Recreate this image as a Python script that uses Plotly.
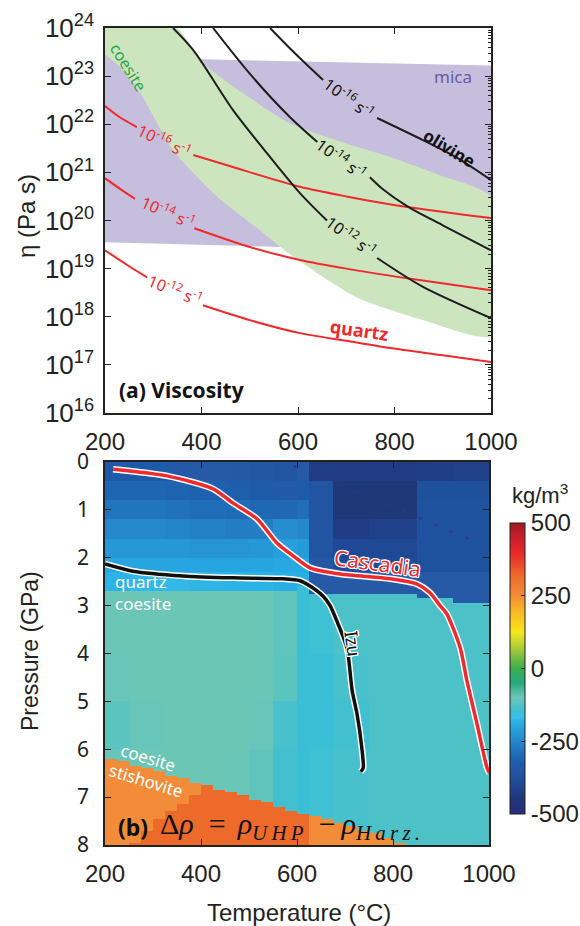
import bisect
import plotly.graph_objects as go

W, H = 580, 926

# ---------------- Panel (a): viscosity data (log10 of eta, Pa s) ----------------
T_TICKS = [200, 400, 600, 800, 1000]
LOG_ETA_TICKS = [16, 17, 18, 19, 20, 21, 22, 23, 24]

# quartz flow law at three strain rates (None = gap for the inline label)
qz16_T = [200, 230, 266, None, 383, 465, 604, 700, 826, 1000]
qz16_log = [22.38, 22.15, 21.94, None, 21.36, 21.11, 20.70, 20.50, 20.28, 20.05]
qz14_T = [200, 235, 262, None, 385, 500, 604, 700, 826, 1000]
qz14_log = [20.88, 20.63, 20.45, None, 19.84, 19.45, 19.18, 19.00, 18.80, 18.55]
qz12_T = [200, 250, 287, None, 403, 500, 604, 700, 791, 900, 1000]
qz12_log = [19.38, 19.05, 18.82, None, 18.24, 17.93, 17.66, 17.50, 17.35, 17.20, 17.06]

# olivine flow law at three strain rates
ol16_T = [542, 583, 620, 652, None, 764, 859, 930, 1000]
ol16_log = [24.0, 23.58, 23.22, 22.92, None, 22.13, 21.67, 21.30, 20.84]
ol14_T = [424, 500, 583, 640, None, 749, 776, 826, 900, 1000]
ol14_log = [24.0, 23.05, 22.15, 21.63, None, 20.90, 20.65, 20.30, 19.90, 19.38]
ol12_T = [341, 383, 465, 530, 604, 660, None, 764, 859, 1000]
ol12_log = [24.0, 23.54, 22.30, 21.47, 20.57, 20.00, None, 19.22, 18.62, 17.97]

# coesite band (upper edge then lower edge)
coes_T = [200, 349, 397, 450, 500, 583, 700, 791, 900, 1000,
          1000, 859, 722, 583, 521, 432, 341, 273, 230, 200]
coes_log = [24.0, 24.0, 23.33, 22.90, 22.55, 22.02, 21.60, 21.32, 20.92, 20.49,
            17.60, 17.93, 18.40, 19.30, 19.80, 20.50, 21.46, 22.65, 23.20, 23.45]
# mica band
mica_T = [200, 400, 1000, 1000, 563, 200]
mica_log = [23.47, 23.35, 23.22, 19.20, 19.45, 19.55]

# ---------------- Panel (b): density difference data ----------------
P_TICKS = [0, 1, 2, 3, 4, 5, 6, 7, 8]
CB_TICKS = [-500, -250, 0, 250, 500]
CB_TEXT = ["-500", "-250", "0", "250", "500"]

COL_EDGES = [200, 250, 325, 375, 450, 500, 550, 600, 625, 675, 750, 850, 925, 1000]
UPPER_BAND_TOPS = [0.0, 0.4, 0.8, 1.2, 1.6, 2.0, 2.3]
DRHO_UPPER = [
    [-330, -330, -335, -340, -345, -355, -360, -340, -430, -430, -430, -425, -420],
    [-305, -305, -310, -315, -320, -330, -335, -330, -360, -445, -445, -380, -380],
    [-280, -280, -285, -290, -295, -300, -300, -290, -360, -445, -445, -375, -375],
    [-250, -250, -255, -260, -265, -265, -240, -250, -360, -430, -420, -375, -375],
    [-220, -220, -220, -225, -225, -220, -210, -215, -360, -395, -395, -375, -375],
    [-200, -200, -200, -200, -200, -200, -195, -195, -350, -390, -390, -375, -375],
    [-180, -175, -175, -178, -180, -180, -185, -190, -340, -340, -340, -340, -340],
]
P_QUARTZ_COESITE = [2.7, 2.7, 2.7, 2.7, 2.7, 2.7, 2.7, 2.6, 2.75, 2.75, 2.75, 2.85, 2.95]
COES_BAND_TOPS = [0.0, 4.0, 5.0, 6.0]
DRHO_COESITE = [
    [-100, -100, -100, -100, -100, -102, -110, -150, -145, -130, -130, -130, -130],
    [-105, -100, -100, -100, -100, -102, -115, -150, -150, -135, -130, -130, -130],
    [-115, -105, -100, -100, -100, -105, -135, -150, -150, -140, -130, -130, -128],
    [-105, -100, -100, -100, -102, -110, -140, -150, -145, -135, -130, -128, -128],
]
# coesite/stishovite boundary per 25 C column (200-225 ... 975-1000)
P_STISHOVITE = [6.18, 6.26, 6.33, 6.40, 6.47, 6.54, 6.61, 6.68, 6.76, 6.83, 6.90, 6.97,
                7.05, 7.12, 7.20, 7.28, 7.35, 7.41, 7.47, 7.54, 7.62, 7.69, 7.77, 7.87,
                7.97, 9, 9, 9, 9, 9, 9, 9]
P_STISH_DARK = [9, 9, 7.95, 7.70, 7.45, 7.30, 7.14, 6.95, 0, 0, 0, 0,
                0, 0, 0, 0, 0, 9, 9, 9, 9, 9, 9, 9,
                9, 9, 9, 9, 9, 9, 9, 9]
DRHO_STISH_LIGHT = 250
DRHO_STISH_DARK = 320

cascadia_T = [217, 329, 425, 467, 517, 558, 592, 627, 690, 794, 850, 877, 898, 912, 940, 954, 975, 996, 1001]
cascadia_P = [0.15, 0.29, 0.56, 0.86, 1.19, 1.69, 1.96, 2.21, 2.34, 2.44, 2.55, 2.73, 3.00, 3.17, 3.88, 4.57, 5.47, 6.39, 6.50]
izu_T = [200, 258, 363, 467, 571, 606, 627, 654, 669, 683, 704, 715, 725, 735, 738, 733]
izu_P = [2.13, 2.28, 2.38, 2.42, 2.44, 2.48, 2.59, 2.80, 3.00, 3.32, 3.88, 4.78, 5.26, 5.97, 6.39, 6.47]
dots_T = [592, 669, 746, 821, 898, 975]
dots_P = [0.08, 0.40, 0.71, 1.02, 1.36, 1.67]

# ---------------- build heatmap grid ----------------
fine_T = [200 + 25 * i + 12.5 for i in range(32)]
fine_P = [0.025 + 0.05 * k for k in range(160)]
Z = []
for p in fine_P:
    row = []
    for j, t in enumerate(fine_T):
        c = bisect.bisect_right(COL_EDGES, t) - 1
        if p >= P_STISHOVITE[j]:
            row.append(DRHO_STISH_DARK if p >= P_STISH_DARK[j] else DRHO_STISH_LIGHT)
        elif p >= P_QUARTZ_COESITE[c]:
            b = max(0, bisect.bisect_right(COES_BAND_TOPS, p) - 1)
            row.append(DRHO_COESITE[b][c])
        else:
            b = bisect.bisect_right(UPPER_BAND_TOPS, p) - 1
            row.append(DRHO_UPPER[b][c])
    Z.append(row)

def sc(v):
    return (v + 500) / 1000.0

colorscale = [
    [sc(-500), "#2b2a7c"], [sc(-445), "#1e3878"], [sc(-430), "#1f3c84"],
    [sc(-410), "#21438e"], [sc(-375), "#1f529e"], [sc(-340), "#275aa6"],
    [sc(-330), "#1d5aa8"], [sc(-300), "#1f68b4"], [sc(-275), "#2277c0"],
    [sc(-250), "#2587cc"], [sc(-220), "#2598d8"], [sc(-200), "#27a5e0"],
    [sc(-180), "#2bb2e6"], [sc(-170), "#3dbde8"], [sc(-150), "#3abfd6"],
    [sc(-130), "#4cc1c8"], [sc(-100), "#6cc6b6"], [sc(-50), "#27a97f"],
    [sc(0), "#3aad4b"], [sc(60), "#9bc73e"], [sc(125), "#f5e71c"],
    [sc(200), "#fbb526"], [sc(250), "#f28c38"], [sc(320), "#ee6a2a"],
    [sc(400), "#e8262b"], [sc(450), "#c8202a"], [sc(500), "#9e1b20"],
]

def pw(vals):
    return [None if v is None else 10.0 ** v for v in vals]

RED = "#ee2a2e"
BLK = "#1e1e1e"
SANS = "Liberation Sans"
MYR = "Noto Sans"

fig = go.Figure()

# bands
fig.add_trace(go.Scatter(x=mica_T, y=pw(mica_log), fill="toself", fillcolor="#c6bedd",
                         line=dict(width=0), mode="lines", hoverinfo="skip",
                         xaxis="x", yaxis="y", showlegend=False))
fig.add_trace(go.Scatter(x=coes_T, y=pw(coes_log), fill="toself", fillcolor="#cde5bf",
                         line=dict(width=0, shape="spline", smoothing=0.6), mode="lines",
                         hoverinfo="skip", xaxis="x", yaxis="y", showlegend=False))
for tx, ly, col in [(qz16_T, qz16_log, RED), (qz14_T, qz14_log, RED), (qz12_T, qz12_log, RED),
                    (ol16_T, ol16_log, BLK), (ol14_T, ol14_log, BLK), (ol12_T, ol12_log, BLK)]:
    fig.add_trace(go.Scatter(x=tx, y=pw(ly), mode="lines",
                             line=dict(color=col, width=2, shape="spline", smoothing=0.8),
                             connectgaps=False, xaxis="x", yaxis="y", showlegend=False))
# invisible trace for right-hand minor tick axis
fig.add_trace(go.Scatter(x=[200], y=[1e20], mode="markers", marker=dict(opacity=0),
                         xaxis="x", yaxis="y3", showlegend=False, hoverinfo="skip"))

# heatmap
fig.add_trace(go.Heatmap(
    x=fine_T, y=fine_P, z=Z, zmin=-500, zmax=500, colorscale=colorscale,
    xaxis="x2", yaxis="y2", hoverinfo="skip",
    colorbar=dict(x=510 / W, xanchor="left", thickness=15, thicknessmode="pixels",
                  len=291 / H, lenmode="fraction", y=1 - 668.5 / H, yanchor="middle",
                  xpad=0, ypad=0, outlinewidth=1, outlinecolor="#222",
                  tickvals=CB_TICKS, ticktext=CB_TEXT, ticks="inside", ticklen=4,
                  tickcolor="#222", tickfont=dict(family=SANS, size=24, color="#222")),
))
fig.add_trace(go.Scatter(x=dots_T, y=dots_P, mode="lines",
                         line=dict(color="#3b2f8c", width=2, dash="3px,14px"),
                         xaxis="x2", yaxis="y2", showlegend=False, hoverinfo="skip"))
for tx, py, col in [(cascadia_T, cascadia_P, RED), (izu_T, izu_P, "#111111")]:
    fig.add_trace(go.Scatter(x=tx, y=py, mode="lines",
                             line=dict(color="white", width=6.5, shape="spline", smoothing=0.7),
                             xaxis="x2", yaxis="y2", showlegend=False, hoverinfo="skip"))
    fig.add_trace(go.Scatter(x=tx, y=py, mode="lines",
                             line=dict(color=col, width=3.5, shape="spline", smoothing=0.7),
                             xaxis="x2", yaxis="y2", showlegend=False, hoverinfo="skip"))

ax_common = dict(showline=True, linecolor="#222", linewidth=1.5, ticks="inside",
                 tickcolor="#222", showgrid=False, zeroline=False, automargin=False)

XD1 = [105 / W, 491 / W]
YD1 = [1 - 413 / H, 1 - 28 / H]
XD2 = [105 / W, 489 / W]
YD2 = [1 - 845 / H, 1 - 462 / H]

fig.update_layout(
    width=W, height=H, margin=dict(l=0, r=0, t=0, b=0, autoexpand=False),
    paper_bgcolor="white", plot_bgcolor="white", showlegend=False,
    xaxis=dict(domain=XD1, anchor="y", range=[200, 1000], tickvals=T_TICKS, ticklen=6,
               mirror="ticks", ticklabelstandoff=6,
               tickfont=dict(family=SANS, size=24, color="#222"), **ax_common),
    yaxis=dict(domain=YD1, anchor="x", type="log", range=[16, 24],
               tickvals=[10.0 ** v for v in LOG_ETA_TICKS],
               ticktext=["10<sup>%d</sup>" % v for v in LOG_ETA_TICKS], ticklen=6,
               ticklabelstandoff=4,
               tickfont=dict(family=SANS, size=26, color="#222"), **ax_common),
    yaxis3=dict(overlaying="y", anchor="x", side="right", type="log", range=[16, 24],
                showticklabels=False, dtick=1, ticklen=6,
                minor=dict(ticks="inside", ticklen=3, dtick="D1", tickcolor="#222"),
                **ax_common),
    xaxis2=dict(domain=XD2, anchor="y2", range=[200, 1000], tickvals=T_TICKS, ticklen=6,
                mirror="ticks", ticklabelstandoff=6,
                tickfont=dict(family=SANS, size=24, color="#222"), **ax_common),
    yaxis2=dict(domain=YD2, anchor="x2", range=[8, 0], tickvals=P_TICKS, ticklen=6,
                mirror="ticks", ticklabelstandoff=10,
                tickfont=dict(family=MYR, size=21, color="#222"), **ax_common),
)

ann = []
def A(text, x, y, xref="x", yref="y", size=16, color="#111", angle=0, family=MYR,
      xanchor="center", shadow=None):
    f = dict(family=family, size=size, color=color)
    if shadow:
        f["shadow"] = shadow
    ann.append(dict(text=text, x=x, y=y, xref=xref, yref=yref, showarrow=False,
                    textangle=angle, font=f, xanchor=xanchor, yanchor="middle"))

rate = "10<sup>-%d</sup> s<sup>-1</sup>"
# panel (a) labels (y in log10 units on log axis)
A("coesite", 248, 23.19, size=16, color="#2ea34c", angle=58)
A("mica", 921, 23.0, size=17, color="#6a5ba8")
A("<b>olivine</b>", 915, 21.5, size=17, color="#111", angle=31)
A(rate % 16, 324, 21.65, size=16, color=RED, angle=26)
A(rate % 14, 331, 20.18, size=16, color=RED, angle=24)
A(rate % 12, 347, 18.56, size=16, color=RED, angle=22)
A(rate % 16, 706, 22.55, size=16, color="#111", angle=36)
A(rate % 14, 691, 21.28, size=16, color="#111", angle=36)
A(rate % 12, 710, 19.68, size=16, color="#111", angle=36)
A("<b>quartz</b>", 728, 17.72, size=18, color=RED, angle=8)
A("<b>(a) Viscosity</b>", 224, 16.48, size=21, color="#111", xanchor="left")

# panel (b) labels
WS = "1px 1px 0 #fff, -1px -1px 0 #fff, 1px -1px 0 #fff, -1px 1px 0 #fff, 0 1px 0 #fff, 0 -1px 0 #fff, 1px 0 0 #fff, -1px 0 0 #fff"
A("Cascadia", 767, 2.11, "x2", "y2", size=21, color=RED, angle=8, shadow=WS)
A("Izu", 717, 3.8, "x2", "y2", size=18, color="#111", angle=82, shadow=WS)
A("quartz", 216, 2.5, "x2", "y2", size=17, color="white", xanchor="left")
A("coesite", 216, 2.96, "x2", "y2", size=17, color="white", xanchor="left")
A("coesite", 290, 6.18, "x2", "y2", size=17, color="white", angle=17)
A("stishovite", 286, 6.66, "x2", "y2", size=17, color="white", angle=17)
A("<b>(b)</b>", 223, 7.62, "x2", "y2", size=23, color="#111", xanchor="left")
TS = "\u2009"
A("Δ<i>ρ</i>\u2002=" + TS + TS + "<i>ρ</i><sub><i>U" + TS + "H" + TS + "P</i></sub>\u2002−" + TS
  + "<i>ρ</i><sub><i>H" + TS + "a" + TS + "r" + TS + "z" + TS + ".</i></sub>",
  310, 7.6, "x2", "y2", size=30, color="#111", family="Liberation Serif", xanchor="left")

# axis titles
A("η (Pa s)", 26 / W, 1 - 216 / H, "paper", "paper", size=24, color="#222", angle=-90, family=SANS)
A("Pressure (GPa)", 30 / W, 1 - 651 / H, "paper", "paper", size=23, color="#222", angle=-90, family=SANS)
A("Temperature (°C)", 299 / W, 1 - 912 / H, "paper", "paper", size=24, color="#222", family=SANS)
A("kg/m<sup>3</sup>", 540 / W, 1 - 494 / H, "paper", "paper", size=22, color="#222", family=SANS)

fig.update_layout(annotations=ann)
fig.write_html("out.html")
